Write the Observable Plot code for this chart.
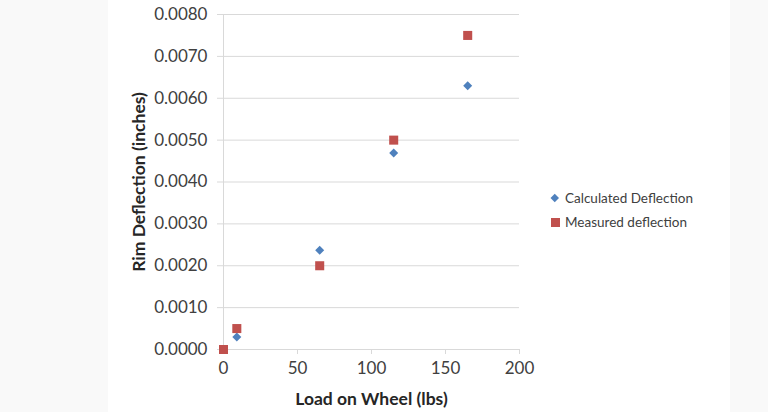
<!DOCTYPE html>
<html>
<head>
<meta charset="utf-8">
<script src="https://cdn.jsdelivr.net/npm/d3@7"></script>
<script src="https://cdn.jsdelivr.net/npm/@observablehq/plot@0.6"></script>
<style>
  html, body { margin: 0; padding: 0; background: #fff; }
  #wrap { position: relative; width: 768px; height: 412px;
    background: linear-gradient(to right, #f9f9f9 108px, #ffffff 108px, #ffffff 730px, #f9f9f9 730px); }
  #legend { position: absolute; left: 549px; top: 186px; font-family: Lato, "Open Sans", sans-serif;
    font-size: 13.5px; color: #404040; line-height: 24px; }
  .row { display: flex; align-items: center; white-space: nowrap; }
  .sw { width: 12px; height: 12px; display: flex; align-items: center; justify-content: center; margin-right: 4px; }
  .dia { width: 5.5px; height: 5.5px; background: #4f81bd; transform: rotate(45deg); }
  .sq { width: 9px; height: 9px; background: #c0504d; }
</style>
</head>
<body>
<div id="wrap"><div id="chart"></div>
  <div id="legend"></div>
</div>
<script>
const loads = [0, 9, 65, 115, 165];
const calculated = [0, 0.0003, 0.00237, 0.00469, 0.0063];
const measured = [0, 0.0005, 0.0020, 0.0050, 0.0075];
const seriesNames = ["Calculated Deflection", "Measured deflection"];
const xTicks = [0, 50, 100, 150, 200];
const yTicks = [0, 0.001, 0.002, 0.003, 0.004, 0.005, 0.006, 0.007, 0.008];
const xTitle = "Load on Wheel (lbs)";
const yTitle = "Rim Deflection (inches)";

const calcData = loads.map((x, i) => ({x, y: calculated[i]}));
const measData = loads.map((x, i) => ({x, y: measured[i]}));

const chart = Plot.plot({
  width: 768, height: 412,
  marginLeft: 223, marginRight: 249, marginTop: 14, marginBottom: 63,
  style: {fontFamily: "Lato, 'Open Sans', sans-serif", color: "#404040", background: "transparent"},
  x: {domain: [0, 200]},
  y: {domain: [0, 0.008]},
  marks: [
    Plot.gridY(yTicks, {stroke: "#d9d9d9", strokeOpacity: 1}),
    Plot.ruleX([0], {stroke: "#d9d9d9"}),
    Plot.ruleY([0], {stroke: "#d9d9d9"}),
    Plot.axisY(yTicks, {tickSize: 6, tickPadding: 10, stroke: "#d9d9d9", fill: "#404040", fontSize: 17,
      tickFormat: d3.format(".4f"), label: yTitle, labelAnchor: "center", labelArrow: "none", labelOffset: 91}),
    Plot.axisX(xTicks, {tickSize: 5, tickPadding: 7, stroke: "#d9d9d9", fill: "#404040", fontSize: 17,
      tickFormat: d3.format("d"), label: xTitle, labelAnchor: "center", labelArrow: "none", labelOffset: 55}),
    Plot.dot(calcData, {x: "x", y: "y", symbol: "square", rotate: 45, r: 3.6, fill: "#4f81bd", stroke: "none"}),
    Plot.dot(measData, {x: "x", y: "y", symbol: "square", r: 5.1, fill: "#c0504d", stroke: "none"})
  ]
});
// bold axis titles
chart.querySelectorAll("g[aria-label='y-axis label'] text, g[aria-label='x-axis label'] text").forEach(t => {
  t.setAttribute("font-weight", "bold"); t.setAttribute("font-size", "17.5"); t.setAttribute("fill", "#262626");
});
document.getElementById("chart").appendChild(chart);

const legend = document.getElementById("legend");
seriesNames.forEach((name, i) => {
  const row = document.createElement("div");
  row.className = "row";
  row.innerHTML = `<span class="sw"><span class="${i === 0 ? "dia" : "sq"}"></span></span><span>${name}</span>`;
  legend.appendChild(row);
});
</script>
</body>
</html>
